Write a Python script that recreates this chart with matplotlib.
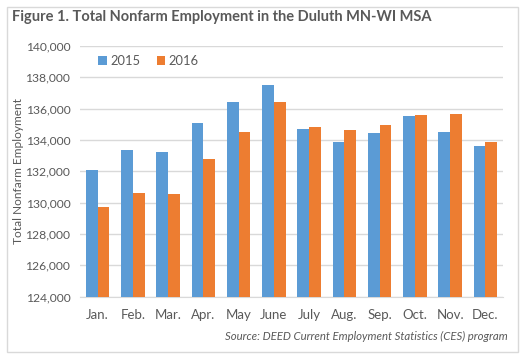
import matplotlib
matplotlib.use("Agg")
import matplotlib.pyplot as plt
import numpy as np
from matplotlib.patches import Rectangle

months = ["Jan.", "Feb.", "Mar.", "Apr.", "May", "June", "July", "Aug.", "Sep.", "Oct.", "Nov.", "Dec."]
emp_2015 = [132050, 133350, 133220, 135080, 136420, 137510, 134690, 133860, 134440, 135520, 134500, 133600]
emp_2016 = [129700, 130590, 130530, 132770, 134500, 136420, 134820, 134630, 134950, 135590, 135650, 133860]
yticks = list(range(124000, 140001, 2000))

plt.rcParams['font.family'] = ['Lato', 'DejaVu Sans']
W, H = 527, 356
fig = plt.figure(figsize=(W / 100, H / 100), dpi=100)
fig.patch.set_facecolor("white")

# outer border
fig.patches.append(Rectangle((7 / W, 1 - 352 / H), (518 - 7) / W, (352 - 7) / H,
                             transform=fig.transFigure, fill=False, edgecolor="#d9d9d9", lw=1))

ax = fig.add_axes([80 / W, 1 - 296.5 / H, (503 - 80) / W, (296.5 - 46) / H])
x = np.arange(len(months))
bw = 1 / 3
ax.bar(x - bw / 2, emp_2015, width=bw, color="#5b9bd5", label="2015", zorder=3)
ax.bar(x + bw / 2, emp_2016, width=bw, color="#ed7d31", label="2016", zorder=3)
ax.set_xlim(-0.5, len(months) - 0.5)
ax.set_ylim(124000, 140000)
ax.set_yticks(yticks)
ax.set_yticklabels([f"{v:,}" for v in yticks])
ax.set_xticks(x)
ax.set_xticklabels(months)
ax.grid(axis="y", color="#d9d9d9", lw=1, zorder=0)
for s in ["top", "right", "left"]:
    ax.spines[s].set_visible(False)
ax.spines["bottom"].set_color("#d9d9d9")
ax.tick_params(axis="both", length=0, colors="#595959")
ax.tick_params(axis="x", pad=9, labelsize=9.5)
ax.tick_params(axis="y", pad=7, labelsize=8.7)

fig.text(19 / W, 1 - 171 / H, "Total Nonfarm Employment", rotation=90,
         color="#595959", fontsize=8.6, ha="center", va="center")

leg = ax.legend(loc="upper left", bbox_to_anchor=(0.025, 0.995), ncol=2, frameon=False,
                fontsize=9.3, handlelength=0.65, handleheight=0.65, columnspacing=1.3,
                handletextpad=0.25, borderaxespad=0.2)
for t in leg.get_texts():
    t.set_color("#595959")

fig.text(12 / W, 1 - 17 / H, "Figure 1. Total Nonfarm Employment in the Duluth MN-WI MSA",
         fontsize=10.5, fontweight="bold", color="#595959", va="center", ha="left")
fig.text(508 / W, 1 - 336 / H, "Source: DEED Current Employment Statistics (CES) program",
         fontsize=8.2, style="italic", color="#595959", va="center", ha="right")

fig.savefig("out.png", dpi=100)
